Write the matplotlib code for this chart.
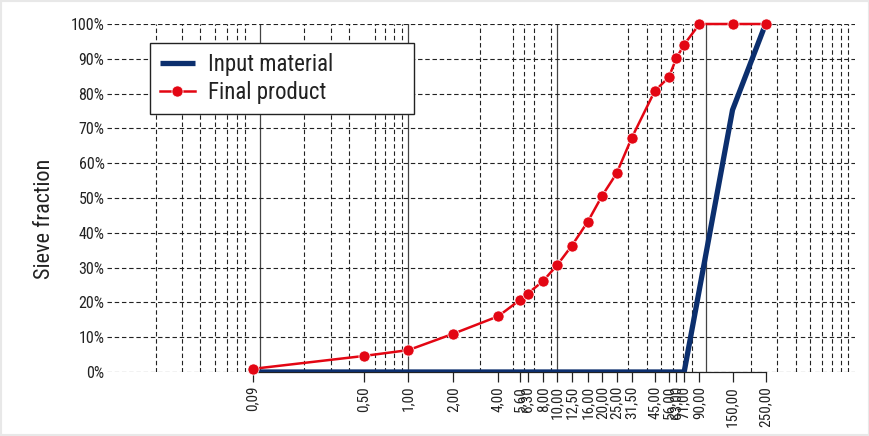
import matplotlib
matplotlib.use("Agg")
import matplotlib.pyplot as plt
from matplotlib.ticker import FixedLocator, FixedFormatter, NullFormatter, LogLocator
from matplotlib.patches import Rectangle

plt.rcParams['font.family'] = ['Liberation Sans Narrow', 'Roboto Condensed', 'DejaVu Sans']

sieve_sizes = [0.09, 0.5, 1.0, 2.0, 4.0, 5.6, 6.3, 8.0, 10.0, 12.5, 16.0, 20.0,
               25.0, 31.5, 45.0, 56.0, 63.0, 71.0, 90.0, 150.0, 250.0]
tick_labels = ["0,09", "0,50", "1,00", "2,00", "4,00", "5,60", "6,30", "8,00",
               "10,00", "12,50", "16,00", "20,00", "25,00", "31,50", "45,00",
               "56,00", "63,00", "71,00", "90,00", "150,00", "250,00"]
final_product = [0.9, 4.6, 6.3, 11.0, 16.0, 20.7, 22.5, 26.1, 30.8, 36.3, 43.2,
                 50.7, 57.1, 67.2, 80.7, 84.7, 90.2, 94.1, 100.0, 100.0, 100.0]
input_x = [0.09, 71.0, 150.0, 250.0]
input_material = [0.0, 0.0, 75.3, 100.0]
y_ticks = [0, 10, 20, 30, 40, 50, 60, 70, 80, 90, 100]

fig = plt.figure(figsize=(8.7, 4.36), dpi=100)
ax = fig.add_axes([0.1264 - 0.003, 1 - 372 / 436, 0.983 - 0.1264 + 0.003, (372 - 24) / 436])
ax.set_xscale('log')
ax.set_xlim(0.0095, 1000)
ax.set_ylim(0, 100)

# grid
ax.xaxis.set_minor_locator(LogLocator(base=10, subs=[2, 3, 4, 5, 6, 7, 8, 9], numticks=20))
ax.xaxis.set_minor_formatter(NullFormatter())
ax.tick_params(axis='x', which='minor', length=0)
ax.grid(True, which='minor', axis='x', color='#222222', lw=0.8, ls=(0, (4, 2.5)), zorder=0)
ax.set_yticks(y_ticks)
ax.set_yticklabels([f"{v}%" for v in y_ticks])
ax.grid(True, which='major', axis='y', color='#222222', lw=0.8, ls=(0, (4, 2.5)), zorder=0)
for d in [0.1, 1, 10, 100]:
    ax.axvline(d, color='#444444', lw=0.9, zorder=0.5)

ax.xaxis.set_major_locator(FixedLocator(sieve_sizes))
ax.xaxis.set_major_formatter(FixedFormatter(tick_labels))
ax.tick_params(axis='x', which='major', length=7, width=0.9, color='#222222',
               labelrotation=90, labelsize=11, pad=3, labelcolor='#222222')
ax.tick_params(axis='y', length=0, labelsize=11.5, pad=2, labelcolor='#222222')

for s in ['top', 'right', 'left']:
    ax.spines[s].set_visible(False)
ax.spines['bottom'].set_bounds(0.09, 250)
ax.spines['bottom'].set_color('#222222')
ax.spines['bottom'].set_linewidth(0.9)

ax.plot(input_x, input_material, color='#0c2f6e', lw=3.8, solid_capstyle='butt',
        label='Input material', zorder=3)
ax.plot(sieve_sizes, final_product, color='#e30613', lw=1.8, marker='o', markersize=8,
        markeredgecolor='white', markeredgewidth=0.5, label='Final product',
        zorder=4, clip_on=False)

ax.set_ylabel('Sieve fraction', fontsize=16, color='#222222')
ax.yaxis.set_label_coords(-0.07, 0.44)

leg = ax.legend(loc='upper left', bbox_to_anchor=(0.057, 0.733, 0.353, 0.212),
                mode='expand', fontsize=16.5,
                frameon=True, fancybox=False, edgecolor='#222222', framealpha=1,
                handlelength=1.5, borderpad=0.45, labelspacing=0.2,
                handletextpad=0.6, borderaxespad=0)
leg.get_frame().set_linewidth(1.0)
for t in leg.get_texts():
    t.set_color('#222222')

fig.patches.append(Rectangle((0, 0), 1, 1, transform=fig.transFigure, fill=False,
                             edgecolor='#e8e8e8', lw=3, zorder=10))

fig.savefig('out.png', dpi=100)
